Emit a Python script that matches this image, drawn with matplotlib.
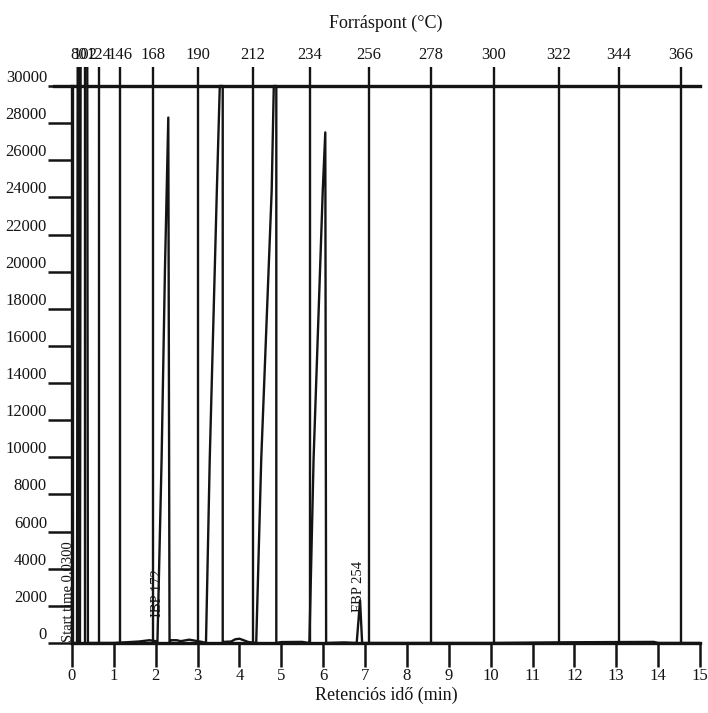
import matplotlib
matplotlib.use("Agg")
import matplotlib.pyplot as plt

plt.rcParams['font.family'] = ['Liberation Serif', 'DejaVu Serif']

# chromatogram trace: retention time (min), signal
time_min = [0.00, 0.12, 0.14, 0.15, 0.18, 0.19, 0.21, 0.22, 0.36, 0.38,
            1.00, 1.60, 1.85, 2.00,
            2.04, 2.14, 2.22, 2.30, 2.33, 2.36,
            2.50, 2.60, 2.80, 2.95, 3.10,
            3.20, 3.29, 3.46, 3.53, 3.60, 3.60,
            3.62, 3.80, 3.90, 4.00, 4.10, 4.20, 4.38,
            4.40, 4.52, 4.77, 4.82, 4.88, 4.88,
            5.00, 5.50, 5.65,
            5.67, 5.77, 5.99, 6.05, 6.07,
            6.50, 6.80, 6.88, 6.93,
            8.00, 10.0, 12.0, 13.9, 14.0, 15.0]
signal = [0, 0, 40000, 40000, 0, 0, 40000, 40000, 40000, 0,
          0, 80, 150, 100,
          0, 9900, 20100, 28300, 0, 150,
          150, 100, 180, 120, 60,
          0, 9900, 24400, 30000, 30000, 0,
          60, 80, 200, 230, 150, 60, 0,
          0, 9900, 24400, 30000, 30000, 0,
          50, 60, 0,
          0, 9900, 24400, 27500, 0,
          30, 0, 2300, 0,
          0, 0, 40, 60, 0, 0]

# boiling point scale (top axis) and where it falls in time
bp_celsius = [80, 102, 124, 146, 168, 190, 212, 234, 256, 278, 300, 322, 344, 366]
bp_time = [0.17, 0.32, 0.64, 1.15, 1.93, 3.01, 4.32, 5.68, 7.09, 8.57,
           10.08, 11.63, 13.06, 14.55]

x_ticks = list(range(0, 16))
y_ticks = list(range(0, 30001, 2000))

ink = '#141414'

fig = plt.figure(figsize=(7.08, 7.13), dpi=100)
ax = fig.add_axes([72 / 708, 1 - 643 / 713, 628 / 708, (643 - 67.4) / 713])
ax.set_xlim(0, 15)
ax.set_ylim(0, 31000)

# boiling point grid lines
ax.vlines(bp_time, 0, 31000, color=ink, lw=1.7)
ax.axhline(30000, color=ink, lw=2.4, xmin=-18 / 628, clip_on=False)

ax.plot(time_min, signal, color=ink, lw=1.7)

for side in ['top', 'right']:
    ax.spines[side].set_visible(False)
ax.spines['left'].set_bounds(0, 30000)
for side in ['left', 'bottom']:
    ax.spines[side].set_linewidth(2.4)
    ax.spines[side].set_color(ink)

ax.set_xticks(x_ticks)
ax.set_yticks(y_ticks)
ax.tick_params(axis='both', length=17, width=1.8, color=ink, labelsize=12,
               labelcolor=ink)
ax.tick_params(axis='x', pad=1)
ax.tick_params(axis='y', pad=1)
for lab in ax.get_yticklabels():
    lab.set_va('bottom')
ax.set_xlabel('Retenciós idő (min)', fontsize=13, labelpad=2, color=ink)

top = ax.secondary_xaxis('top')
top.set_xticks(bp_time, labels=[str(v) for v in bp_celsius])
top.tick_params(length=0, pad=3, labelsize=12, labelcolor=ink)
top.spines['top'].set_visible(False)
top.set_xlabel('Forráspont (°C)', fontsize=13, labelpad=14, color=ink)

ax.text(0.06, 40, 'Start time 0.0300', rotation=90, ha='right', va='bottom',
        fontsize=10.5, color=ink, clip_on=False)
ax.text(2.2, 1400, 'IBP 172', rotation=90, ha='right', va='bottom',
        fontsize=10.5, color=ink)
ax.text(7.0, 1670, 'FBP 254', rotation=90, ha='right', va='bottom',
        fontsize=10.5, color=ink)

fig.savefig('out.png', dpi=100)
